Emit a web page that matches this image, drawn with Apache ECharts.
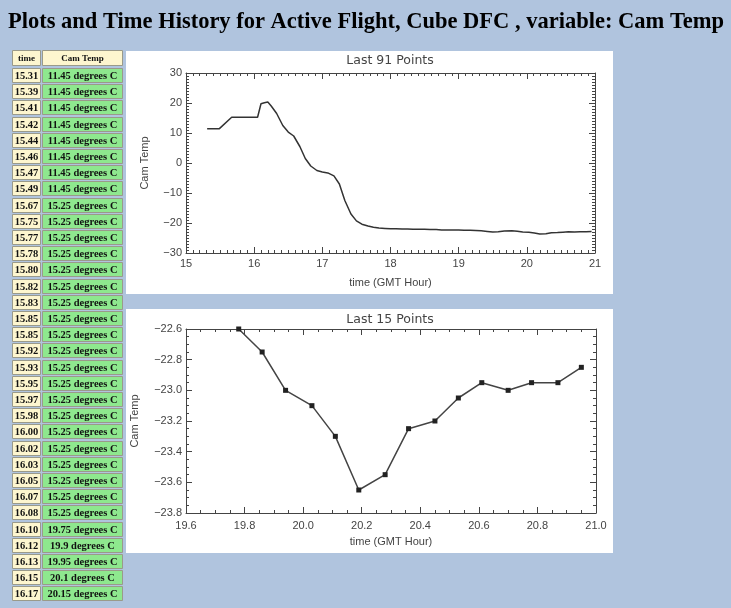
<!DOCTYPE html>
<html><head><meta charset="utf-8">
<script src="https://cdn.jsdelivr.net/npm/echarts@6/dist/echarts.min.js"></script>
<style>html,body{margin:0;padding:0;background:#b0c4de}#c{width:731px;height:608px}</style>
</head><body><div id="c"></div><script>
const pageTitle = 'Plots and Time History for Active Flight, Cube DFC , variable: Cam Temp';
const tableHeader = ['time', 'Cam Temp'];
const tableTimes = ['15.31','15.39','15.41','15.42','15.44','15.46','15.47','15.49','15.67','15.75','15.77','15.78','15.80','15.82','15.83','15.85','15.85','15.92','15.93','15.95','15.97','15.98','16.00','16.02','16.03','16.05','16.07','16.08','16.10','16.12','16.13','16.15','16.17'];
const tableTemps = [11.45,11.45,11.45,11.45,11.45,11.45,11.45,11.45,15.25,15.25,15.25,15.25,15.25,15.25,15.25,15.25,15.25,15.25,15.25,15.25,15.25,15.25,15.25,15.25,15.25,15.25,15.25,15.25,19.75,19.9,19.95,20.1,20.15];
const midTimes = [16.20,16.25,16.33,16.42,16.50,16.58,16.67,16.75,16.83,16.92,17.00,17.08,17.17,17.25,17.33,17.42,17.50,17.58,17.67,17.75,17.83,17.92,18.00,18.08,18.17,18.25,18.33,18.42,18.50,18.58,18.67,18.75,18.83,18.92,19.00,19.08,19.17,19.25,19.33,19.42,19.50,19.58,19.67];
const midTemps = [20.3,19.0,16.5,12.5,10.3,9.0,5.5,1.5,-1.0,-2.5,-3.0,-3.3,-4.3,-7.0,-12.5,-17.0,-19.3,-20.4,-21.0,-21.4,-21.7,-21.8,-21.9,-21.9,-22.0,-22.0,-22.1,-22.1,-22.1,-22.2,-22.2,-22.3,-22.3,-22.3,-22.3,-22.4,-22.4,-22.5,-22.6,-22.8,-23.0,-22.9,-22.7];
const lastTimes = [19.78,19.86,19.94,20.03,20.11,20.19,20.28,20.36,20.45,20.53,20.61,20.70,20.78,20.87,20.95];
const lastTemps = [-22.6,-22.75,-23.0,-23.1,-23.3,-23.65,-23.55,-23.25,-23.2,-23.05,-22.95,-23.0,-22.95,-22.95,-22.85];
const topTitle = 'Last 91 Points';
const bottomTitle = 'Last 15 Points';
const xName = 'time (GMT Hour)';
const yName = 'Cam Temp';

const allTimes = tableTimes.map(Number).concat(midTimes, lastTimes);
const allTemps = tableTemps.concat(midTemps, lastTemps);
const topData = allTimes.map((t, i) => [t, allTemps[i]]);
const bottomData = lastTimes.map((t, i) => [t, lastTemps[i]]);

const AX = '#444';
const FONT = 'Liberation Sans';
const minus = s => String(s).replace('-', '\u2212');
const nameStyle = {color: AX, fontSize: 11, fontFamily: FONT};

function axis(kind, grid, min, max, interval, minorSplit, fmt, main, margin, extra) {
  const a = {
    gridIndex: grid, type: 'value', min: min, max: max, interval: interval,
    axisLine: {show: true, onZero: false, lineStyle: {color: AX, width: 1}},
    axisTick: {show: true, inside: true, length: 6, lineStyle: {color: AX}},
    minorTick: {show: true, splitNumber: minorSplit, length: 3, lineStyle: {color: AX}},
    splitLine: {show: false},
    axisLabel: {show: main, color: AX, fontSize: 11, fontFamily: FONT, margin: margin, formatter: fmt}
  };
  if (kind === 'x') a.position = main ? 'bottom' : 'top';
  else a.position = main ? 'left' : 'right';
  return Object.assign(a, extra || {});
}
const f0 = v => minus(Math.round(v));
const f1 = v => minus(v.toFixed(1));

const graphic = [];
graphic.push({type: 'rect', shape: {x: 126, y: 51, width: 487, height: 243}, style: {fill: '#fff'}, z: -10});
graphic.push({type: 'rect', shape: {x: 126, y: 309, width: 487, height: 244}, style: {fill: '#fff'}, z: -10});
graphic.push({type: 'text', x: 366, y: 22, style: {text: pageTitle, font: 'bold 22.5px "Liberation Serif"', fill: '#000', align: 'center', verticalAlign: 'middle'}});
graphic.push({type: 'text', x: 390, y: 61, style: {text: topTitle, font: '12.5px "DejaVu Sans"', fill: AX, align: 'center', verticalAlign: 'middle'}});
graphic.push({type: 'text', x: 390, y: 320, style: {text: bottomTitle, font: '12.5px "DejaVu Sans"', fill: AX, align: 'center', verticalAlign: 'middle'}});

// table
const c1x = 12, c1w = 28, c2x = 42, c2w = 80;
function cell(x, y, w, h, fill, text, font) {
  graphic.push({type: 'rect', shape: {x: x + 0.5, y: y + 0.5, width: w, height: h}, style: {fill: fill, stroke: '#9a9a8a', lineWidth: 1}});
  graphic.push({type: 'text', x: x + w / 2 + 0.5, y: y + h / 2 + 1, style: {text: text, font: font, fill: '#111', align: 'center', verticalAlign: 'middle'}});
}
const cf = 'bold 10.5px "Liberation Serif"';
cell(c1x, 50, c1w, 15, '#fdf6cf', tableHeader[0], 'bold 9px "Liberation Serif"');
cell(c2x, 50, c2w, 15, '#fdf6cf', tableHeader[1], 'bold 9px "Liberation Serif"');
tableTimes.forEach((t, i) => {
  const y = 68 + i * 16.2;
  cell(c1x, Math.round(y), c1w, 14, '#fdf6cf', t, cf);
  cell(c2x, Math.round(y), c2w, 14, '#8ee88e', tableTemps[i] + ' degrees C', cf);
});

const option = {
  backgroundColor: '#b0c4de',
  animation: false,
  graphic: graphic,
  grid: [
    {left: 186, top: 73, width: 409, height: 180},
    {left: 186, top: 329, width: 410, height: 184}
  ],
  xAxis: [
    axis('x', 0, 15, 21, 1, 10, f0, true, 5, {name: xName, nameLocation: 'middle', nameGap: 24, nameTextStyle: nameStyle}),
    axis('x', 0, 15, 21, 1, 10, f0, false, 5),
    axis('x', 1, 19.6, 21.0, 0.2, 4, f1, true, 7, {name: xName, nameLocation: 'middle', nameGap: 23, nameTextStyle: nameStyle}),
    axis('x', 1, 19.6, 21.0, 0.2, 4, f1, false, 5)
  ],
  yAxis: [
    axis('y', 0, -30, 30, 10, 10, f0, true, 4, {name: yName, nameLocation: 'middle', nameGap: 36, nameTextStyle: nameStyle}),
    axis('y', 0, -30, 30, 10, 10, f0, false, 4),
    axis('y', 1, -23.8, -22.6, 0.2, 4, f1, true, 4, {name: yName, nameLocation: 'middle', nameGap: 46, nameTextStyle: nameStyle}),
    axis('y', 1, -23.8, -22.6, 0.2, 4, f1, false, 4)
  ],
  series: [
    {type: 'line', xAxisIndex: 0, yAxisIndex: 0, data: topData, showSymbol: false, lineStyle: {color: '#333', width: 1.5}},
    {type: 'line', xAxisIndex: 2, yAxisIndex: 2, data: bottomData, symbol: 'rect', symbolSize: 5, itemStyle: {color: '#222'}, lineStyle: {color: '#444', width: 1.5}}
  ]
};
const chart = echarts.init(document.getElementById('c'), null, {renderer: 'canvas'});
chart.setOption(option);
</script></body></html>
